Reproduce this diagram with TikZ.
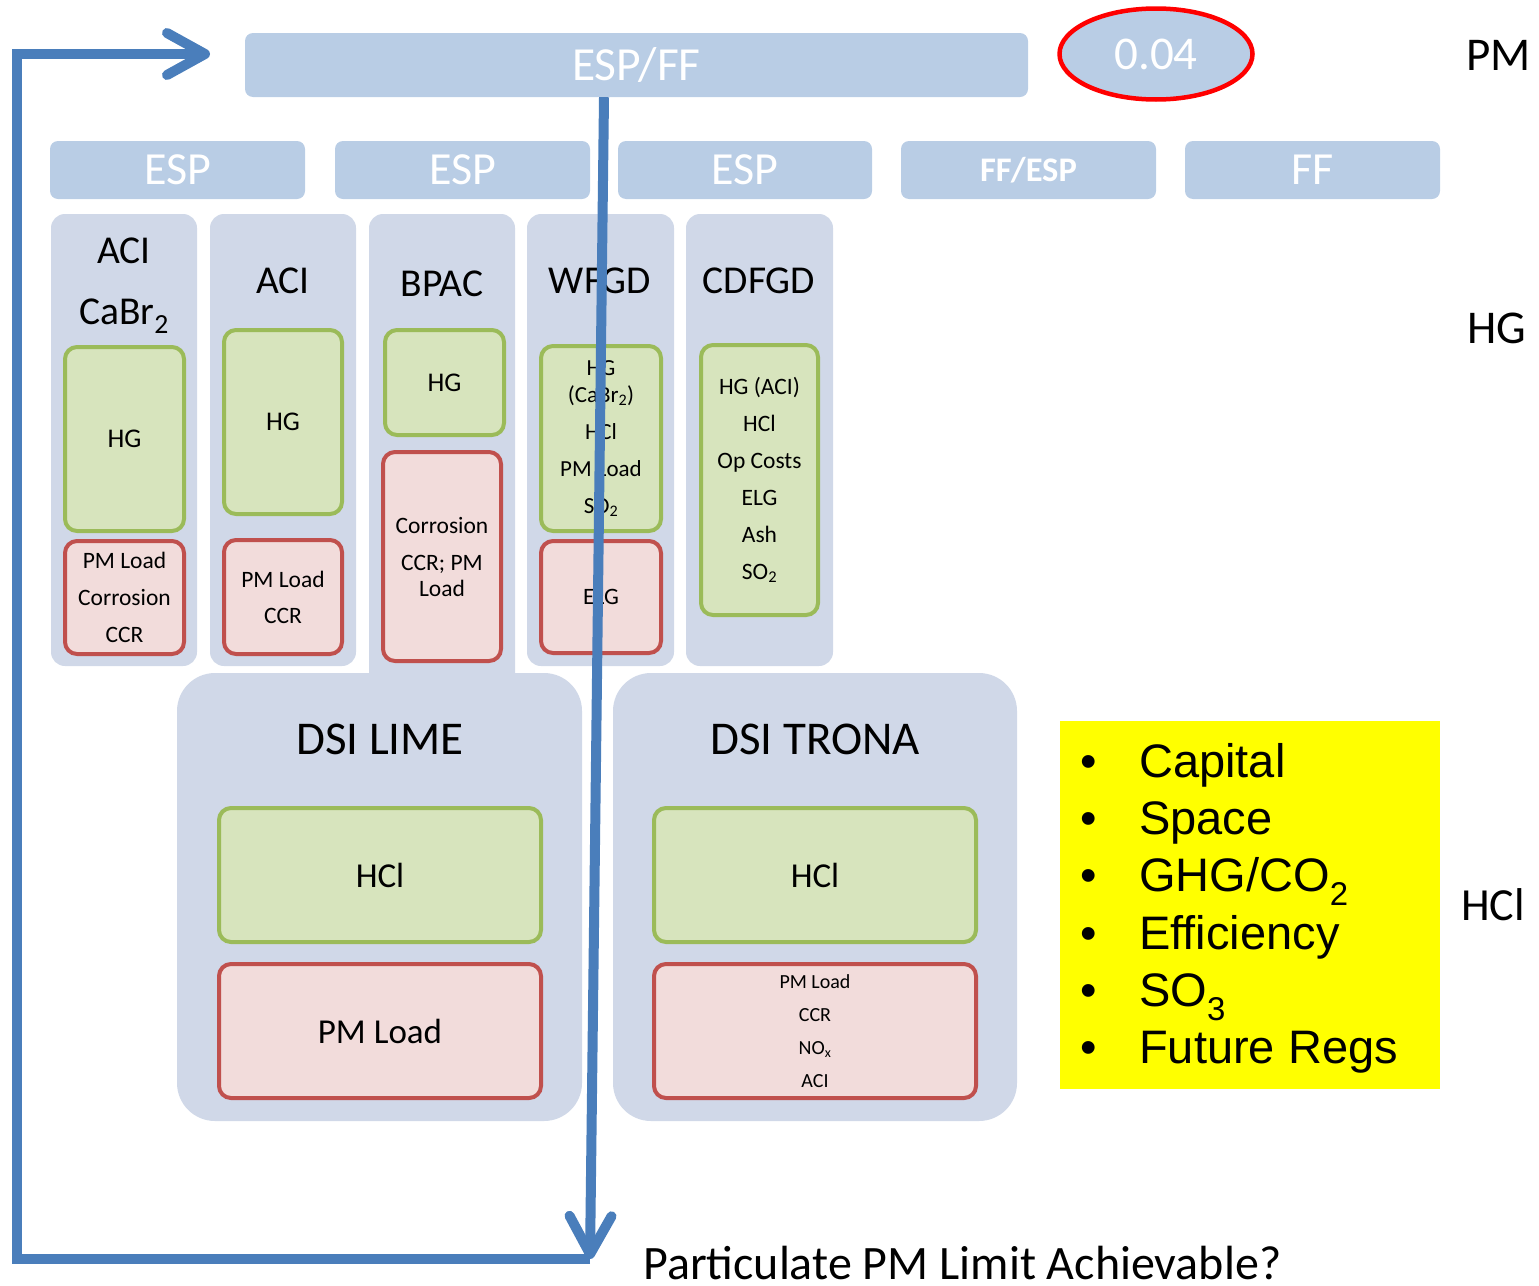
\documentclass[tikz,border=0pt]{standalone}
\usepackage{fontspec}
\setmainfont{Carlito}
\newfontfamily\arialfont{Liberation Sans}
\usetikzlibrary{arrows.meta,shapes.geometric}

\definecolor{hdrblue}{HTML}{B9CDE5}
\definecolor{colgray}{HTML}{D0D8E8}
\definecolor{goodfill}{HTML}{D7E4BD}
\definecolor{goodline}{HTML}{9BBB59}
\definecolor{badfill}{HTML}{F2DCDB}
\definecolor{badline}{HTML}{C0504D}
\definecolor{flowblue}{HTML}{4A7EBB}
\definecolor{ringred}{HTML}{FF0000}
\definecolor{notepad}{HTML}{FFFF00}

% font size / baselineskip in pt
\newcommand\fsz[2]{\fontsize{#1}{#2}\selectfont}
% rounded box given by its corners: name, style, x1, y1, x2, y2, text
\newcommand\rbox[7]{%
  \node[#2, minimum width={#5-#3}, minimum height={#6-#4}] (#1)
    at ({(#3+#5)/2},{(#4+#6)/2}) {#7};}

\tikzset{
  hdr/.style={fill=hdrblue, rounded corners=8pt, inner sep=0pt, text=white},
  colbox/.style={fill=colgray, rounded corners=14pt, inner sep=0pt},
  dsibox/.style={fill=colgray, rounded corners=38pt, inner sep=0pt},
  goodbox/.style={fill=goodfill, draw=goodline, line width=4pt,
    rounded corners=12pt, inner sep=0pt, align=center},
  badbox/.style={fill=badfill, draw=badline, line width=4pt,
    rounded corners=12pt, inner sep=0pt, align=center},
  coltitle/.style={anchor=base, inner sep=0pt, font=\fsz{39.5}{44}},
  sidelabel/.style={anchor=base west, inner sep=0pt, font=\fsz{47}{50}},
  bullet/.style={anchor=base west, inner sep=0pt, font=\arialfont\fsz{47}{56}},
  flow/.style={draw=flowblue, line width=10pt, line join=miter},
  barb/.style={-{Straight Barb[length=38pt, width=42pt, round]}},
}

\begin{document}
\begin{tikzpicture}[x=1pt, y=-1pt]
\useasboundingbox (0,0) rectangle (1539,1285);

% filter row
\rbox{espff}{hdr, font=\fsz{47.5}{50}}{245}{33}{1028}{97}{ESP/FF}
\node[ellipse, draw=ringred, line width=4.5pt, fill=hdrblue, text=white,
      minimum width=193pt, minimum height=91pt, inner sep=0pt,
      font=\fsz{47}{50}] (limit) at (1156,54) {0.04};
\node[sidelabel] (pmlab) at (1466,70) {PM};

\rbox{h1}{hdr, font=\fsz{46}{50}}{50}{141}{305}{199}{ESP}
\rbox{h2}{hdr, font=\fsz{46}{50}}{335}{141}{590}{199}{ESP}
\rbox{h3}{hdr, font=\fsz{46}{50}}{618}{141}{872}{199}{ESP}
\rbox{h4}{hdr, font=\bfseries\fsz{34.5}{40}}{901}{141}{1156}{199}{FF/ESP}
\rbox{h5}{hdr, font=\fsz{46}{50}}{1185}{141}{1440}{199}{FF}

% mercury control columns
\rbox{c1}{colbox}{51}{214}{197}{666}{}
\rbox{c2}{colbox}{210}{214}{356}{666}{}
\rbox{c3}{colbox}{369}{214}{515}{690}{}
\rbox{c4}{colbox}{527}{214}{674}{666}{}
\rbox{c5}{colbox}{686}{214}{833}{666}{}

\node[coltitle] (t1a) at (124,263) {ACI};
\node[coltitle] (t1b) at (124,324) {CaBr\textsubscript{2}};
\node[coltitle] (t2) at (283,293) {ACI};
\node[coltitle] (t3) at (442,296) {BPAC};
\node[coltitle] (t4) at (600,293) {WFGD};
\node[coltitle] (t5) at (759,293) {CDFGD};

\node[sidelabel] (hglab) at (1467,343) {HG};

\rbox{g1}{goodbox, font=\fsz{27}{32}}{65}{347}{184}{531}{HG}
\rbox{r1}{badbox, font=\fsz{23.5}{37}}{65}{541}{184}{654}{PM Load\\Corrosion\\CCR}
\rbox{g2}{goodbox, font=\fsz{27}{32}}{224}{330}{342}{514}{HG}
\rbox{r2}{badbox, font=\fsz{23.5}{36}}{224}{540}{342}{654}{PM Load\\CCR}
\rbox{g3}{goodbox, font=\fsz{27}{32}}{385}{330}{504}{435}{HG}
\rbox{r3}{badbox, font=\fsz{23.5}{37}}{383}{452}{501}{661}{Corrosion\\CCR; PM\\[-11pt]Load}
\rbox{g4}{goodbox, font=\fsz{23}{37}}{541}{346}{661}{531}{HG\\[-10pt](CaBr\textsubscript{2})\\HCl\\PM Load\\SO\textsubscript{2}}
\rbox{r4}{badbox, font=\fsz{23.5}{37}}{541}{541}{661}{653}{ELG}
\rbox{g5}{goodbox, font=\fsz{23.5}{37}}{701}{345}{818}{615}{HG (ACI)\\HCl\\Op Costs\\ELG\\Ash\\SO\textsubscript{2}}

% acid gas sorbent injection
\rbox{dl}{dsibox}{177}{673}{582}{1121}{}
\rbox{dt}{dsibox}{613}{673}{1017}{1121}{}
\node[anchor=base, inner sep=0pt, font=\fsz{47}{50}] (dltitle) at (380,754) {DSI LIME};
\node[anchor=base, inner sep=0pt, font=\fsz{47}{50}] (dttitle) at (815,754) {DSI TRONA};
\rbox{gl}{goodbox, font=\fsz{35}{40}}{219}{808}{541}{942}{HCl}
\rbox{rl}{badbox, font=\fsz{35}{40}}{219}{964}{541}{1098}{PM Load}
\rbox{gt}{goodbox, font=\fsz{35}{40}}{654}{808}{976}{942}{HCl}
\rbox{rt}{badbox, font=\fsz{20}{33}}{654}{964}{976}{1098}{PM Load\\CCR\\NO\textsubscript{x}\\ACI}

% other considerations
\rbox{issues}{fill=notepad, inner sep=0pt}{1060}{721}{1440}{1089}{}
\node[bullet] (b1) at (1080,777) {\makebox[59pt][l]{•}Capital};
\node[bullet] (b2) at (1080,834) {\makebox[59pt][l]{•}Space};
\node[bullet] (b3) at (1080,891) {\makebox[59pt][l]{•}GHG/CO\textsubscript{2}};
\node[bullet] (b4) at (1080,949) {\makebox[59pt][l]{•}Efficiency};
\node[bullet] (b5) at (1080,1006) {\makebox[59pt][l]{•}SO\textsubscript{3}};
\node[bullet] (b6) at (1080,1063) {\makebox[59pt][l]{•}Future Regs};

\node[sidelabel, font=\fsz{46}{50}] (hcllab) at (1461,920) {HCl};

\node[anchor=base west, inner sep=0pt, font=\fsz{48}{50}] (question)
  at (643,1279) {Particulate PM Limit Achievable?};

% decision flow
\path (espff.south) ++(-32.5,0) coordinate (drop);
\coordinate (elbow) at (590,1259);
\coordinate (loopin) at (210,54);
\draw[flow, barb] (drop) -- (elbow);
\draw[flow, barb] (elbow) -| (17,54) -- (loopin);
\end{tikzpicture}
\end{document}
